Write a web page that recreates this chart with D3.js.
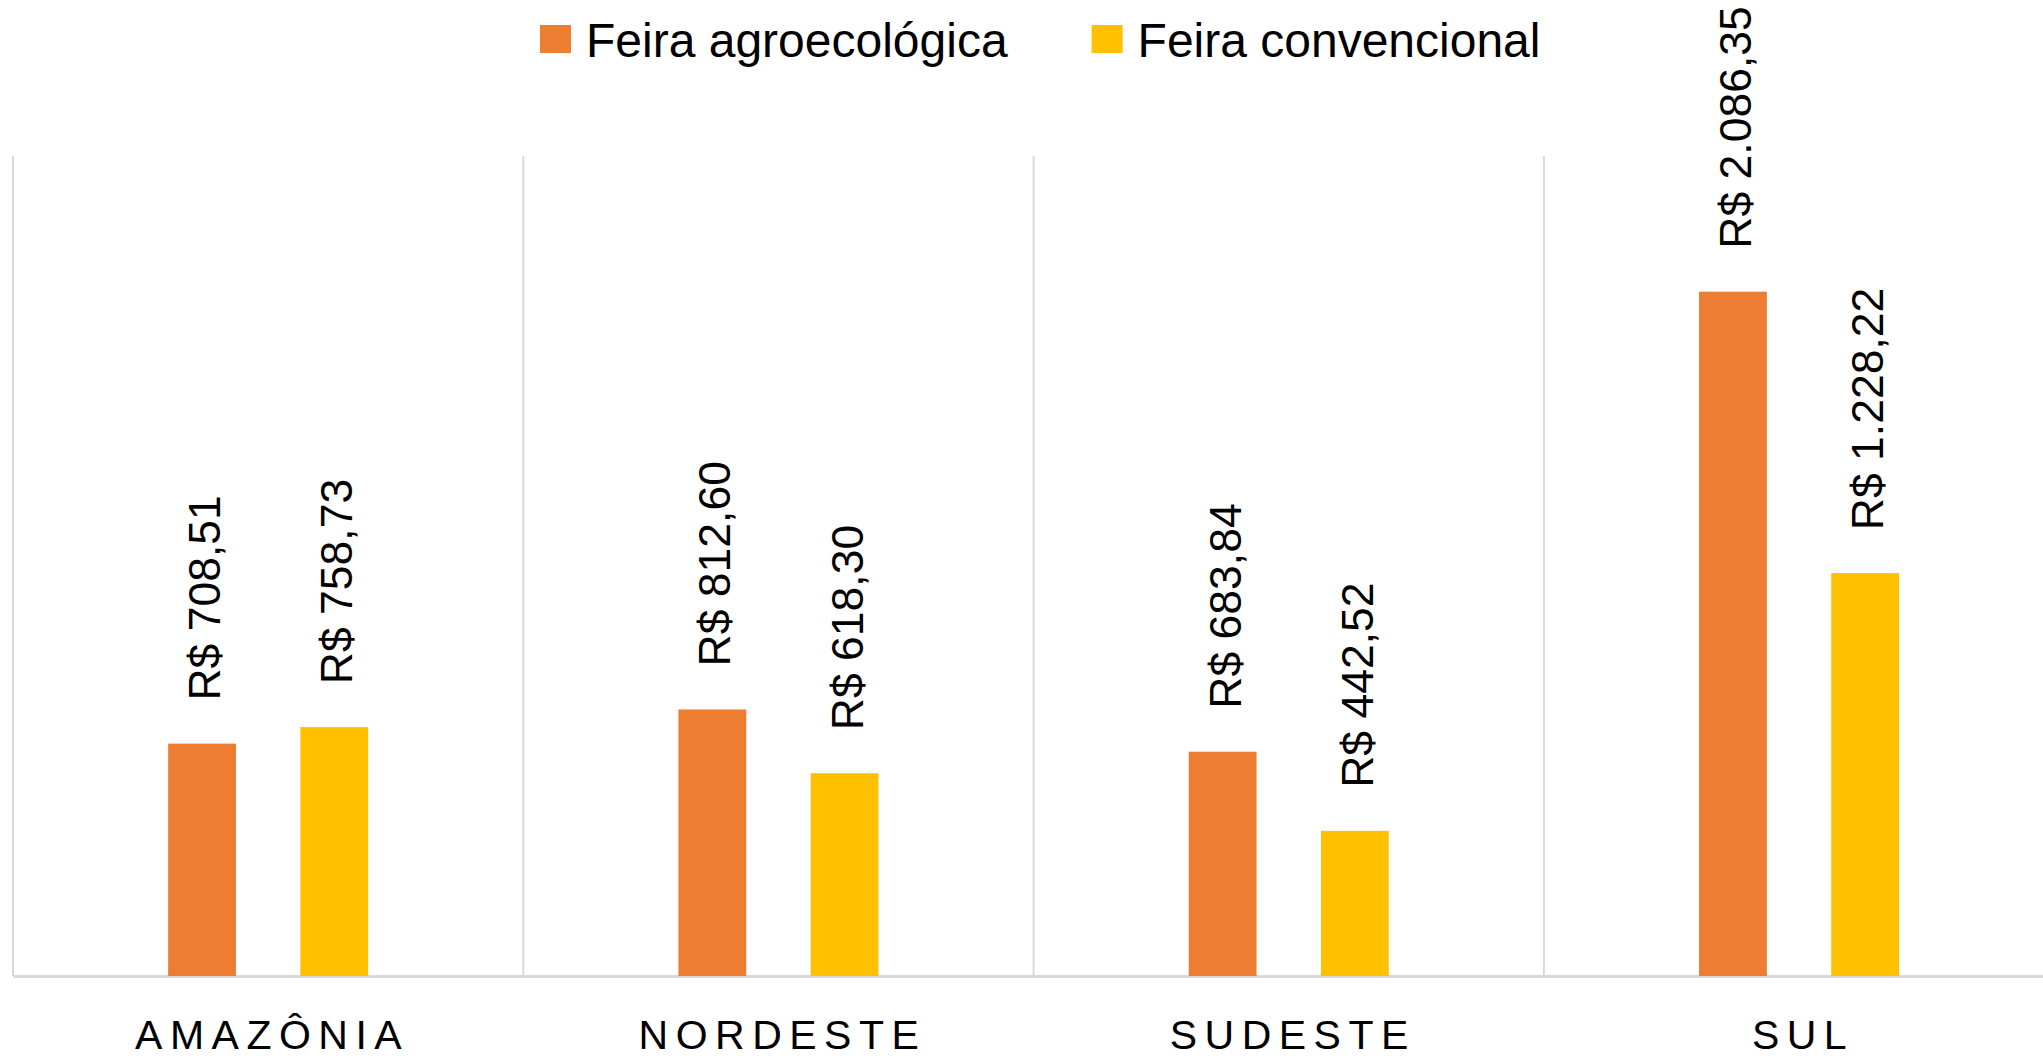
<!DOCTYPE html>
<html>
<head>
<meta charset="utf-8">
<script src="https://cdn.jsdelivr.net/npm/d3@7"></script>
<style>
  html, body { margin: 0; padding: 0; background: #fff; }
  svg { display: block; }
  text { font-family: "Liberation Sans", Arial, sans-serif; }
</style>
</head>
<body>
<svg id="chart" width="2043" height="1059"></svg>
<script>
// ---- data ----
const categories = ["AMAZÔNIA", "NORDESTE", "SUDESTE", "SUL"];
const seriesNames = ["Feira agroecológica", "Feira convencional"];
const agroecologica = [708.51, 812.60, 683.84, 2086.35];
const convencional = [758.73, 618.30, 442.52, 1228.22];
const seriesColors = ["#ED7D31", "#FFC000"];
const yMax = 2500;

// ---- layout ----
const W = 2043, H = 1059;
const plotLeft = 13, bandW = 510.3, plotTop = 156, plotBottom = 976;

const svg = d3.select("#chart");

const x0 = d3.scaleBand().domain(categories)
  .range([plotLeft, plotLeft + bandW * categories.length]).padding(0);
const x1 = d3.scaleBand().domain(seriesNames)
  .range([0.304 * bandW, 0.696 * bandW]).paddingInner(0.487).paddingOuter(0);
const y = d3.scaleLinear().domain([0, yMax]).range([plotBottom, plotTop]);
const color = d3.scaleOrdinal().domain(seriesNames).range(seriesColors);

const br = d3.formatLocale({decimal: ",", thousands: ".", grouping: [3], currency: ["R$ ", ""]});
const fmt = br.format("$,.2f");

// vertical gridlines at category boundaries
svg.append("g").selectAll("line").data(categories).join("line")
  .attr("x1", d => x0(d)).attr("x2", d => x0(d))
  .attr("y1", plotTop).attr("y2", plotBottom)
  .attr("stroke", "#d9d9d9").attr("stroke-width", 2);

// baseline
svg.append("line")
  .attr("x1", plotLeft).attr("x2", W)
  .attr("y1", plotBottom + 0.5).attr("y2", plotBottom + 0.5)
  .attr("stroke", "#d9d9d9").attr("stroke-width", 3);

const rows = categories.map((c, i) => ({
  cat: c,
  vals: [
    {s: seriesNames[0], v: agroecologica[i]},
    {s: seriesNames[1], v: convencional[i]}
  ]
}));

const groups = svg.append("g").selectAll("g").data(rows).join("g")
  .attr("transform", d => `translate(${x0(d.cat)},0)`);

groups.selectAll("rect").data(d => d.vals).join("rect")
  .attr("x", d => x1(d.s))
  .attr("width", x1.bandwidth())
  .attr("y", d => y(d.v))
  .attr("height", d => plotBottom - y(d.v))
  .attr("fill", d => color(d.s));

groups.selectAll("text.val").data(d => d.vals).join("text")
  .attr("class", "val")
  .attr("transform", d => `translate(${x1(d.s) + x1.bandwidth() / 2 + 18},${y(d.v) - 43}) rotate(-90)`)
  .attr("text-anchor", "start")
  .attr("font-size", 44.5)
  .attr("fill", "#000")
  .text(d => fmt(d.v));

// category labels
svg.append("g").selectAll("text").data(categories).join("text")
  .attr("x", d => x0(d) + bandW / 2 + 4)
  .attr("y", 1049)
  .attr("text-anchor", "middle")
  .attr("font-size", 41)
  .attr("letter-spacing", 7.5)
  .attr("fill", "#000")
  .text(d => d);

// legend
const legend = svg.append("g");
let lx = 540;
seriesNames.forEach((s, i) => {
  legend.append("rect").attr("x", lx).attr("y", 25).attr("width", 31).attr("height", 28)
    .attr("fill", seriesColors[i]);
  const t = legend.append("text").attr("x", lx + 46).attr("y", 57)
    .attr("font-size", 48).attr("fill", "#000").text(s);
  lx += 46 + t.node().getComputedTextLength() + 84;
});
</script>
</body>
</html>
